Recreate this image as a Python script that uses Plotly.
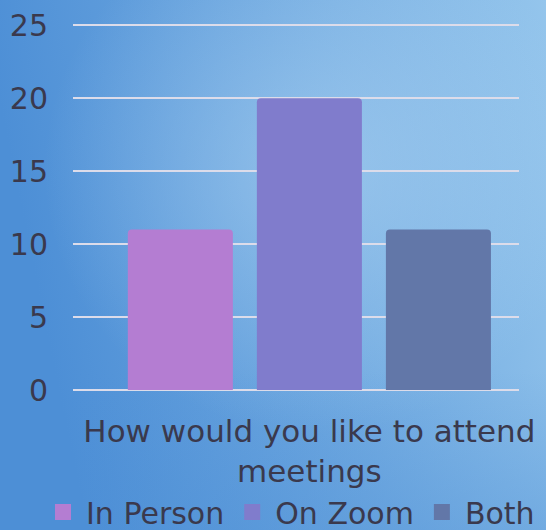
import base64
import plotly.graph_objects as go

category = ["How would you like to attend meetings"]
category_ticktext = ["How would you like to attend<br>meetings"]
series_names = ["In Person", "On Zoom", "Both"]
series_values = [[11], [20], [11]]
series_colors = ["#b47dd2", "#807ccc", "#6277a8"]
y_ticks = [0, 5, 10, 15, 20, 25]

W, H = 546, 530
PL, PR, PT, PB = 73, 519, 24, 390  # plot area edges in pixels

svg = f'''<svg xmlns="http://www.w3.org/2000/svg" width="{W}" height="{H}" viewBox="0 0 {W} {H}" preserveAspectRatio="none">
<defs>
<linearGradient id="g" x1="0" y1="0.2" x2="1" y2="0">
<stop offset="0" stop-color="#4d8fd6"/>
<stop offset="0.5" stop-color="#6ea8e0"/>
<stop offset="1" stop-color="#94c5ec"/>
</linearGradient>
<radialGradient id="r" cx="0.58" cy="0.32" r="0.5">
<stop offset="0" stop-color="#b8daf4" stop-opacity="0.5"/>
<stop offset="1" stop-color="#b8daf4" stop-opacity="0"/>
</radialGradient>
<linearGradient id="b" x1="0" y1="0" x2="0" y2="1">
<stop offset="0.7" stop-color="#4d8fd6" stop-opacity="0"/>
<stop offset="1" stop-color="#4d8fd6" stop-opacity="0.35"/>
</linearGradient>
</defs>
<rect width="{W}" height="{H}" fill="url(#g)"/>
<rect width="{W}" height="{H}" fill="url(#r)"/>
<rect width="{W}" height="{H}" fill="url(#b)"/>
</svg>'''
bg_uri = "data:image/svg+xml;base64," + base64.b64encode(svg.encode()).decode()

fig = go.Figure()
for name, vals, col in zip(series_names, series_values, series_colors):
    fig.add_trace(go.Bar(x=category, y=vals, name=name, marker_color=col,
                         marker_line_width=0, showlegend=False))
# legend entries with larger square swatches
for name, col in zip(series_names, series_colors):
    fig.add_trace(go.Scatter(x=[None], y=[None], mode="markers", name=name,
                             marker=dict(symbol="square", size=18, color=col),
                             showlegend=True))

font_family = "DejaVu Sans"
text_color = "#3a394d"

fig.update_layout(
    width=W, height=H,
    margin=dict(l=0, r=0, t=0, b=0, autoexpand=False),
    paper_bgcolor="#5b9bdc",
    plot_bgcolor="rgba(0,0,0,0)",
    barmode="group",
    bargap=0.132,
    bargroupgap=0.186,
    barcornerradius=4,
    font=dict(family=font_family, color=text_color),
    showlegend=True,
    legend=dict(orientation="h", xref="paper", yref="paper",
                x=40 / W, xanchor="left", y=1 - 486 / H, yanchor="top",
                font=dict(size=30, color=text_color), bgcolor="rgba(0,0,0,0)",
                itemwidth=36),
    images=[dict(source=bg_uri, xref="paper", yref="paper",
                 x=0, y=1, sizex=1, sizey=1,
                 xanchor="left", yanchor="top", sizing="stretch", layer="below")],
)
fig.update_xaxes(domain=[PL / W, PR / W], range=[-0.53, 0.47],
                 tickvals=category, ticktext=category_ticktext,
                 tickfont=dict(size=31, color=text_color), ticks="",
                 ticklabelstandoff=20,
                 showgrid=False, zeroline=False, showline=False, automargin=False)
fig.update_yaxes(domain=[1 - PB / H, 1 - PT / H], range=[0, 25.1], tickvals=y_ticks,
                 showgrid=True, gridcolor="#dcdcea", gridwidth=2, zeroline=True,
                 zerolinecolor="#dcdcea", zerolinewidth=2, automargin=False,
                 tickfont=dict(size=30, color=text_color), ticks="",
                 ticklabelstandoff=24)

fig.write_html("out.html")
